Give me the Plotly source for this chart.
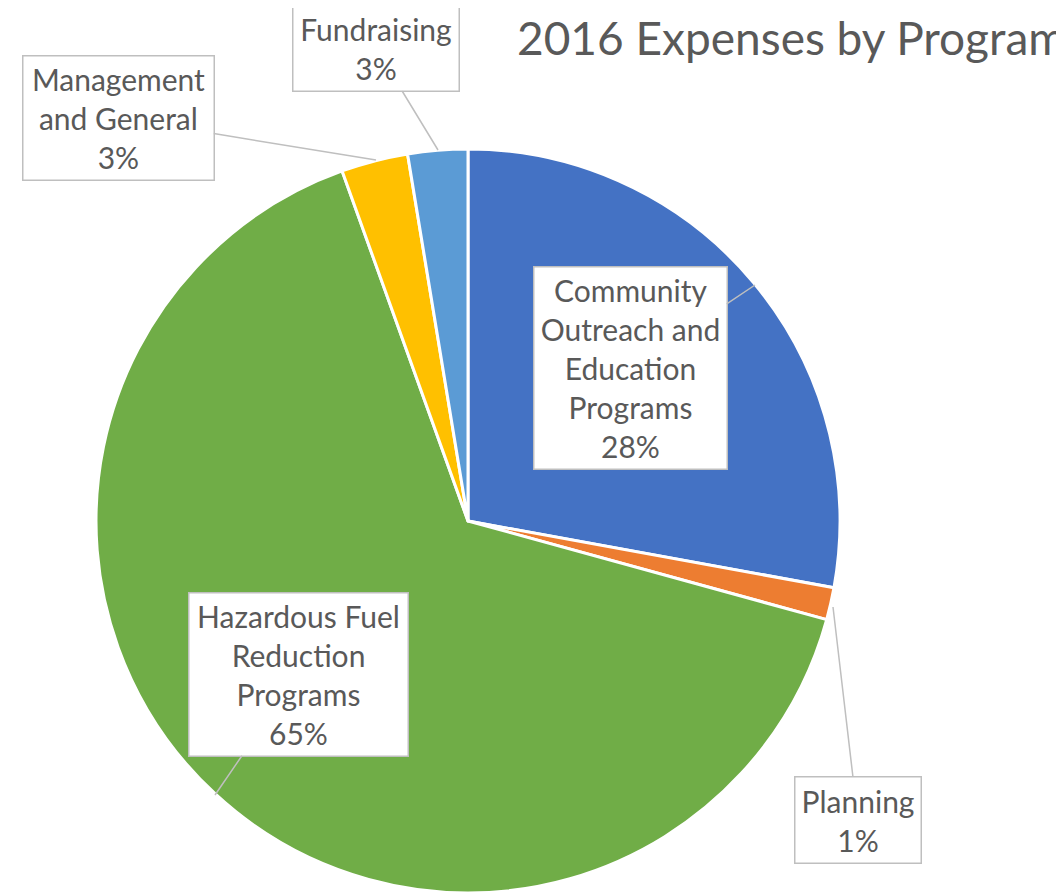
import plotly.graph_objects as go

categories = ["Community Outreach and Education Programs", "Planning",
              "Hazardous Fuel Reduction Programs", "Management and General", "Fundraising"]
shares = [27.9, 1.4, 65.3, 2.9, 2.6]
colors = ["#4472C4", "#ED7D31", "#70AD47", "#FFC000", "#5B9BD5"]
box_text = ["Community<br>Outreach and<br>Education<br>Programs<br>28%",
            "Planning<br>1%",
            "Hazardous Fuel<br>Reduction<br>Programs<br>65%",
            "Management<br>and General<br>3%",
            "Fundraising<br>3%"]

W, H = 1064, 895
OFF = 8  # page body margin
FONT = "Lato, 'Liberation Sans', sans-serif"
GREY = "#595959"


def px_x(v):
    return (v - OFF) / W


def px_y(v):
    return 1 - (v - OFF) / H


fig = go.Figure(go.Pie(
    labels=categories, values=shares, sort=False, direction="clockwise", rotation=0,
    marker=dict(colors=colors, line=dict(color="white", width=3)),
    textinfo="none", hoverinfo="label+percent", showlegend=False,
    domain=dict(x=[px_x(96), px_x(840)], y=[px_y(893), px_y(149)]),
))

# callout boxes: arrow tip (px), box centre (px), box size (px)
callouts = [
    ((755, 285), (630, 368), (194, 203)),
    ((833, 607), (858, 820), (127, 87)),
    ((215, 795), (298, 674), (220, 164)),
    ((376, 160), (118, 118), (192, 125)),
    ((438, 150), (376, 48), (167, 87)),
]
for txt, (tip, ctr, size) in zip(box_text, callouts):
    fig.add_annotation(
        x=px_x(tip[0]), y=px_y(tip[1]), xref="paper", yref="paper",
        ax=ctr[0] - tip[0], ay=ctr[1] - tip[1],
        text=txt, showarrow=True, arrowhead=0, arrowwidth=1.5, arrowcolor="#BFBFBF",
        bgcolor="white", bordercolor="#BFBFBF", borderwidth=1.5,
        width=size[0] - 4, height=size[1] - 4, align="center",
        font=dict(family=FONT, size=30, color=GREY),
    )

fig.add_annotation(
    x=px_x(515), y=px_y(38), xref="paper", yref="paper", xanchor="left", yanchor="middle",
    text="2016 Expenses by Program", showarrow=False,
    font=dict(family=FONT, size=46, color=GREY),
)

fig.update_layout(
    width=W, height=H, margin=dict(l=0, r=0, t=0, b=0),
    paper_bgcolor="white", plot_bgcolor="white",
)
fig.write_html("out.html")
